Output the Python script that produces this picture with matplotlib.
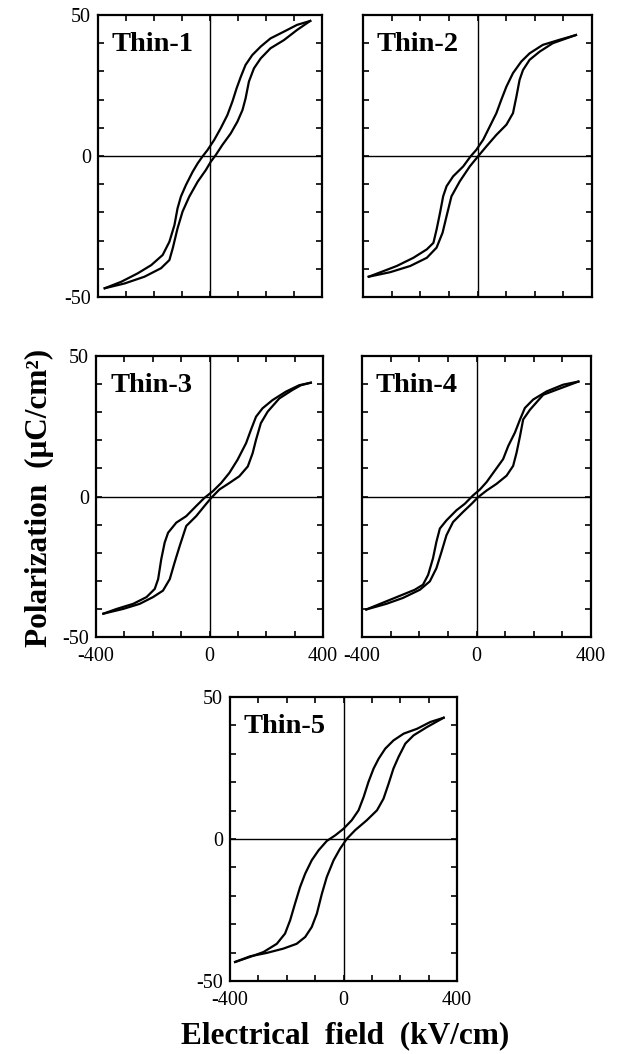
import matplotlib
matplotlib.use('Agg')
import matplotlib.pyplot as plt

plt.rcParams['font.family'] = ['Liberation Serif', 'DejaVu Serif']

# P-E loops: field in kV/cm, polarization in uC/cm2
# "down" = branch swept from +Emax to -Emax, "up" = the return branch
thin1_E_down = [358, 311, 264, 216, 181, 151, 127, 110, 95, 80, 62, 38, 15, -9, -27, -44, -62,
                -86, -104, -116, -127, -145, -169, -210, -258, -317, -376]
thin1_P_down = [47.9, 46.5, 44.1, 41.7, 38.8, 35.8, 32.3, 28.1, 24.0, 19.3, 14.5, 9.8, 5.7, 2.1,
                -0.2, -2.6, -5.6, -10.3, -14.4, -18.6, -24.5, -30.4, -35.1, -38.7, -41.6, -44.6,
                -46.9]
thin1_E_up = [-376, -305, -234, -175, -145, -133, -116, -98, -74, -44, -15, 3, 21, 44, 74, 98,
              116, 127, 139, 157, 181, 216, 264, 311, 358]
thin1_P_up = [-46.9, -45.2, -42.8, -39.8, -36.9, -32.7, -25.7, -19.7, -14.4, -9.1, -5.0, -2.0,
              0.4, 3.9, 8.0, 12.2, 16.3, 20.4, 26.4, 31.1, 34.6, 38.2, 41.1, 44.7, 47.9]

thin2_E_down = [344, 286, 228, 182, 153, 124, 101, 83, 66, 43, 20, -4, -24, -50, -85, -108,
                -120, -131, -143, -154, -177, -224, -282, -328, -380]
thin2_P_down = [42.9, 41.2, 39.4, 36.4, 33.5, 29.4, 24.6, 19.9, 15.2, 10.5, 5.8, 2.2, -0.1,
                -3.7, -7.2, -10.7, -14.3, -20.2, -26.1, -30.8, -33.1, -36.1, -39.0, -40.8, -42.8]
thin2_E_up = [-380, -305, -235, -177, -143, -122, -108, -91, -62, -27, 2, 31, 66, 101, 124, 136,
              147, 159, 182, 217, 263, 344]
thin2_P_up = [-42.8, -41.2, -39.0, -36.1, -32.5, -27.2, -21.3, -14.3, -9.0, -3.7, -0.1, 3.4,
              7.5, 11.1, 15.2, 21.1, 27.0, 30.5, 34.1, 37.0, 40.0, 42.9]

thin3_E_down = [357, 316, 269, 222, 187, 164, 146, 129, 99, 70, 41, 12, -18, -47, -82, -117,
                -146, -158, -170, -181, -193, -222, -269, -327, -374]
thin3_P_down = [40.5, 39.6, 37.3, 34.3, 31.4, 28.4, 23.7, 19.0, 13.1, 8.4, 4.8, 1.9, -0.5, -3.4,
                -7.0, -9.3, -12.9, -16.4, -22.3, -29.4, -32.9, -35.8, -38.2, -40.0, -41.7]
thin3_E_up = [-374, -304, -246, -199, -164, -140, -123, -105, -82, -47, -18, 6, 35, 70, 105,
              135, 152, 164, 181, 205, 246, 292, 322, 357]
thin3_P_up = [-41.7, -40.0, -38.2, -35.8, -33.5, -29.4, -23.5, -17.6, -10.5, -7.0, -3.4, -0.5,
              2.5, 4.8, 7.2, 10.7, 15.4, 20.2, 26.1, 30.2, 34.9, 37.9, 39.6, 40.5]

thin4_E_down = [356, 303, 245, 198, 169, 152, 134, 111, 93, 64, 35, 12, -12, -41, -70, -105,
                -128, -140, -152, -169, -187, -216, -257, -315, -385]
thin4_P_down = [40.9, 39.8, 37.4, 34.5, 31.5, 27.4, 22.7, 18.0, 13.3, 9.2, 5.1, 2.5, 0.4, -2.6,
                -4.9, -8.5, -11.4, -16.1, -22.0, -27.9, -31.4, -33.2, -34.9, -37.3, -40.2]
thin4_E_up = [-385, -315, -257, -198, -163, -140, -122, -105, -82, -47, -17, 6, 35, 70, 105,
              128, 140, 152, 163, 187, 233, 280, 356]
thin4_P_up = [-40.2, -38.2, -36.1, -33.2, -30.2, -25.5, -19.6, -13.8, -9.1, -5.5, -2.6, -0.2,
              2.1, 4.5, 7.4, 10.9, 15.6, 21.5, 27.4, 30.9, 36.2, 38.0, 40.9]

thin5_E_down = [353, 306, 259, 212, 176, 147, 124, 106, 88, 71, 53, 29, 0, -29, -59, -88, -112,
                -135, -153, -171, -188, -206, -235, -282, -329, -382]
thin5_P_down = [42.7, 41.2, 38.8, 37.1, 34.7, 31.8, 28.3, 24.8, 20.1, 14.8, 10.1, 6.6, 3.6, 1.3,
                -0.7, -4.0, -7.5, -12.2, -16.9, -22.8, -28.6, -33.3, -36.9, -39.8, -41.5, -43.3]
thin5_E_up = [-382, -329, -270, -212, -165, -135, -112, -94, -76, -59, -35, -12, 12, 41, 82,
              118, 141, 159, 176, 194, 218, 247, 294, 353]
thin5_P_up = [-43.3, -41.3, -40.1, -38.6, -36.9, -34.5, -31.0, -26.3, -19.2, -13.4, -7.5, -3.4,
              0.1, 3.1, 6.6, 10.1, 14.2, 19.5, 24.8, 28.9, 33.6, 36.5, 39.4, 42.7]

names = ['Thin-1', 'Thin-2', 'Thin-3', 'Thin-4', 'Thin-5']
loops = [
    (thin1_E_down, thin1_P_down, thin1_E_up, thin1_P_up),
    (thin2_E_down, thin2_P_down, thin2_E_up, thin2_P_up),
    (thin3_E_down, thin3_P_down, thin3_E_up, thin3_P_up),
    (thin4_E_down, thin4_P_down, thin4_E_up, thin4_P_up),
    (thin5_E_down, thin5_P_down, thin5_E_up, thin5_P_up),
]

x_ticks = list(range(-400, 401, 100))
x_ticklabels = ['-400', '', '', '', '0', '', '', '', '400']
y_ticks = list(range(-50, 51, 10))
y_ticklabels = ['-50', '', '', '', '', '0', '', '', '', '', '50']

W, H = 630, 1054
fig = plt.figure(figsize=(W / 100, H / 100), dpi=100)

# panel boxes in pixels: left, top, width, height
boxes = [(98, 15, 224, 282), (363, 15, 229, 282),
         (96, 356, 227, 281), (362, 356, 229, 281),
         (230, 697, 227, 284)]
show_y = [True, False, True, False, True]
show_x = [False, False, True, True, True]

for i, (l, t, w, h) in enumerate(boxes):
    ax = fig.add_axes([l / W, 1 - (t + h) / H, w / W, h / H])
    Ed, Pd, Eu, Pu = loops[i]
    ax.plot(Ed, Pd, color='k', lw=1.6, solid_joinstyle='round')
    ax.plot(Eu, Pu, color='k', lw=1.6, solid_joinstyle='round')
    ax.axhline(0, color='k', lw=1.0)
    ax.axvline(0, color='k', lw=1.0)
    ax.set_xlim(-400, 400)
    ax.set_ylim(-50, 50)
    ax.set_xticks(x_ticks)
    ax.set_yticks(y_ticks)
    ax.set_xticklabels(x_ticklabels if show_x[i] else [])
    ax.set_yticklabels(y_ticklabels if show_y[i] else [])
    ax.tick_params(direction='in', top=True, right=True, length=4, width=1.2,
                   labelsize=14.5)
    ax.tick_params(axis='y', pad=5)
    ax.tick_params(axis='x', pad=7)
    for s in ax.spines.values():
        s.set_linewidth(1.6)
    ax.text(14 / w, 1 - 36 / h, names[i], transform=ax.transAxes,
            fontsize=20.5, fontweight='bold', va='baseline', ha='left')

fig.text(47 / W, 1 - 498 / H, 'Polarization  (μC/cm²)', rotation=90, rotation_mode='anchor',
         ha='center', va='baseline', fontsize=22.5, fontweight='bold')
fig.text(345 / W, 1 - 1043 / H, 'Electrical  field  (kV/cm)', ha='center', va='baseline',
         fontsize=22.5, fontweight='bold')

fig.savefig('out.png', dpi=100)
